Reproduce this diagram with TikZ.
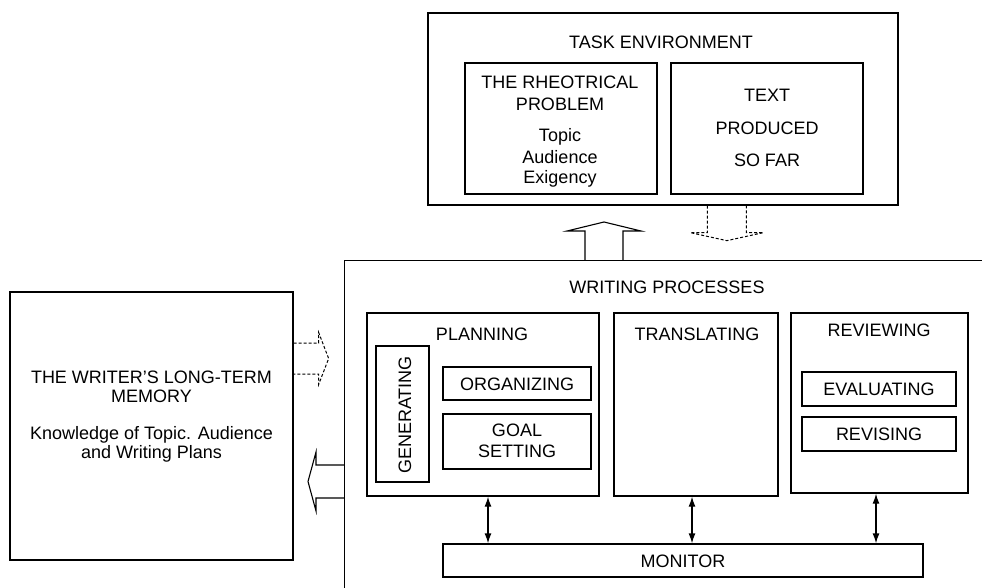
\documentclass[tikz,border=0pt]{standalone}
\usepackage{fontspec}
\setmainfont{Liberation Sans}
\usetikzlibrary{arrows.meta,calc}
\newcommand{\lblfont}{\fontsize{18}{21}\selectfont}
\begin{document}
\begin{tikzpicture}[x=1pt,y=-1pt,
  box/.style={draw, line width=1.3pt, inner sep=0pt},
  lbl/.style={font=\lblfont, inner sep=0pt, anchor=base},
  blockarrow/.style={line width=1.1pt, line join=miter},
  dashedarrow/.style={line width=1.0pt, dash pattern=on 3pt off 2pt},
  dbl/.style={line width=1.3pt, {Latex[length=10pt,width=7pt]}-{Latex[length=10pt,width=7pt]}}]
\useasboundingbox (0,0) rectangle (982,588);
\fill[white] (0,0) rectangle (982,588);

% task environment
\node[box, minimum width=470, minimum height=192] (task) at (663,109) {};
\node[box, minimum width=192, minimum height=131] (rhet) at (561,128.5) {};
\node[box, minimum width=192, minimum height=131] (textp) at (767,128.5) {};
\node[lbl] (taskt) at (661,48.5) {TASK ENVIRONMENT};
\node[lbl] (rh1) at (560,89) {THE RHEOTRICAL};
\node[lbl] (rh2) at (560,110.5) {PROBLEM};
\node[lbl] (rh3) at (560,141.5) {Topic};
\node[lbl] (rh4) at (560,163.5) {Audience};
\node[lbl] (rh5) at (560,184) {Exigency};
\node[lbl] (tp1) at (767,101.5) {TEXT};
\node[lbl] (tp2) at (767,135) {PRODUCED};
\node[lbl] (tp3) at (767,166.5) {SO FAR};

% writing processes (runs off the right and bottom edges)
\begin{scope}
  \clip (0,0) rectangle (982,588);
  \node[box, anchor=north west, minimum width=700, minimum height=400] (wp) at (344,260) {};
\end{scope}
\node[lbl] (wpt) at (667,293.5) {WRITING PROCESSES};

% long-term memory
\node[box, minimum width=283, minimum height=268] (mem) at (151.5,426) {};
\node[lbl] (m1) at (151.5,383.5) {THE WRITER'S LONG-TERM};
\node[lbl] (m2) at (151.5,402) {MEMORY};
\node[lbl] (m3) at (151.5,439.5) {Knowledge of Topic. Audience};
\node[lbl] (m4) at (151.5,458.5) {and Writing Plans};

% planning
\node[box, minimum width=232, minimum height=183] (plan) at (483,404.5) {};
\node[lbl] (plant) at (482,340) {PLANNING};
\node[box, minimum width=53, minimum height=136] (gen) at (402.5,414) {};
\node[lbl, rotate=90] (gent) at (411,415) {GENERATING};
\node[box, minimum width=148, minimum height=33] (org) at (517,383.5) {};
\node[lbl] (orgt) at (517,390) {ORGANIZING};
\node[box, minimum width=148, minimum height=55] (goal) at (517,441.5) {};
\node[lbl] (goal1) at (517,436.7) {GOAL};
\node[lbl] (goal2) at (517,457.7) {SETTING};

% translating
\node[box, minimum width=164, minimum height=183] (tr) at (696,404.5) {};
\node[lbl] (trt) at (697,340.5) {TRANSLATING};

% reviewing
\node[box, minimum width=177, minimum height=180] (rev) at (879.5,403) {};
\node[lbl] (revt) at (879,336) {REVIEWING};
\node[box, minimum width=154, minimum height=34] (eval) at (879,389) {};
\node[lbl] (evalt) at (879,395.7) {EVALUATING};
\node[box, minimum width=154, minimum height=34] (revis) at (879,434) {};
\node[lbl] (revist) at (879,440.7) {REVISING};

% monitor
\node[box, minimum width=480, minimum height=33] (mon) at (683,560.5) {};
\node[lbl] (mont) at (683,567.3) {MONITOR};

% links between the processes and the monitor
\draw[dbl] ([xshift=5pt]plan.south) -- ([xshift=5pt]plan.south |- mon.north);
\draw[dbl] ([xshift=-4pt]tr.south) -- ([xshift=-4pt]tr.south |- mon.north);
\draw[dbl] ([xshift=-3.5pt]rev.south) -- ([xshift=-3.5pt]rev.south |- mon.north);

% block arrows between the task environment, memory and writing processes
\coordinate (upb) at (604,260);
\draw[blockarrow] (upb) ++(-19,0) -- ++(0,-29) -- ++(-18,0) -- ++(37,-9)
  -- ++(37,9) -- ++(-18,0) -- ++(0,29);
\coordinate (dnb) at ($(task.south west)+(299.5,0)$);
\draw[dashedarrow] (dnb) ++(-19.5,0) -- ++(0,27) -- ++(-17,0) -- ++(36.5,8)
  -- ++(36.5,-8) -- ++(-17,0) -- ++(0,-27);
\coordinate (rb) at ($(mem.east)+(0,-67.5)$);
\draw[dashedarrow] (rb) ++(0,-15.5) -- ++(25,0) -- ++(0,-10.5) -- ++(10,26)
  -- ++(-10,26) -- ++(0,-10.5) -- ++(-25,0);
\coordinate (lb) at (344,481.5);
\draw[blockarrow] (lb) ++(0,-16.5) -- ++(-28,0) -- ++(0,-13) -- ++(-8,29.5)
  -- ++(8,29.5) -- ++(0,-13) -- ++(28,0);
\end{tikzpicture}
\end{document}
